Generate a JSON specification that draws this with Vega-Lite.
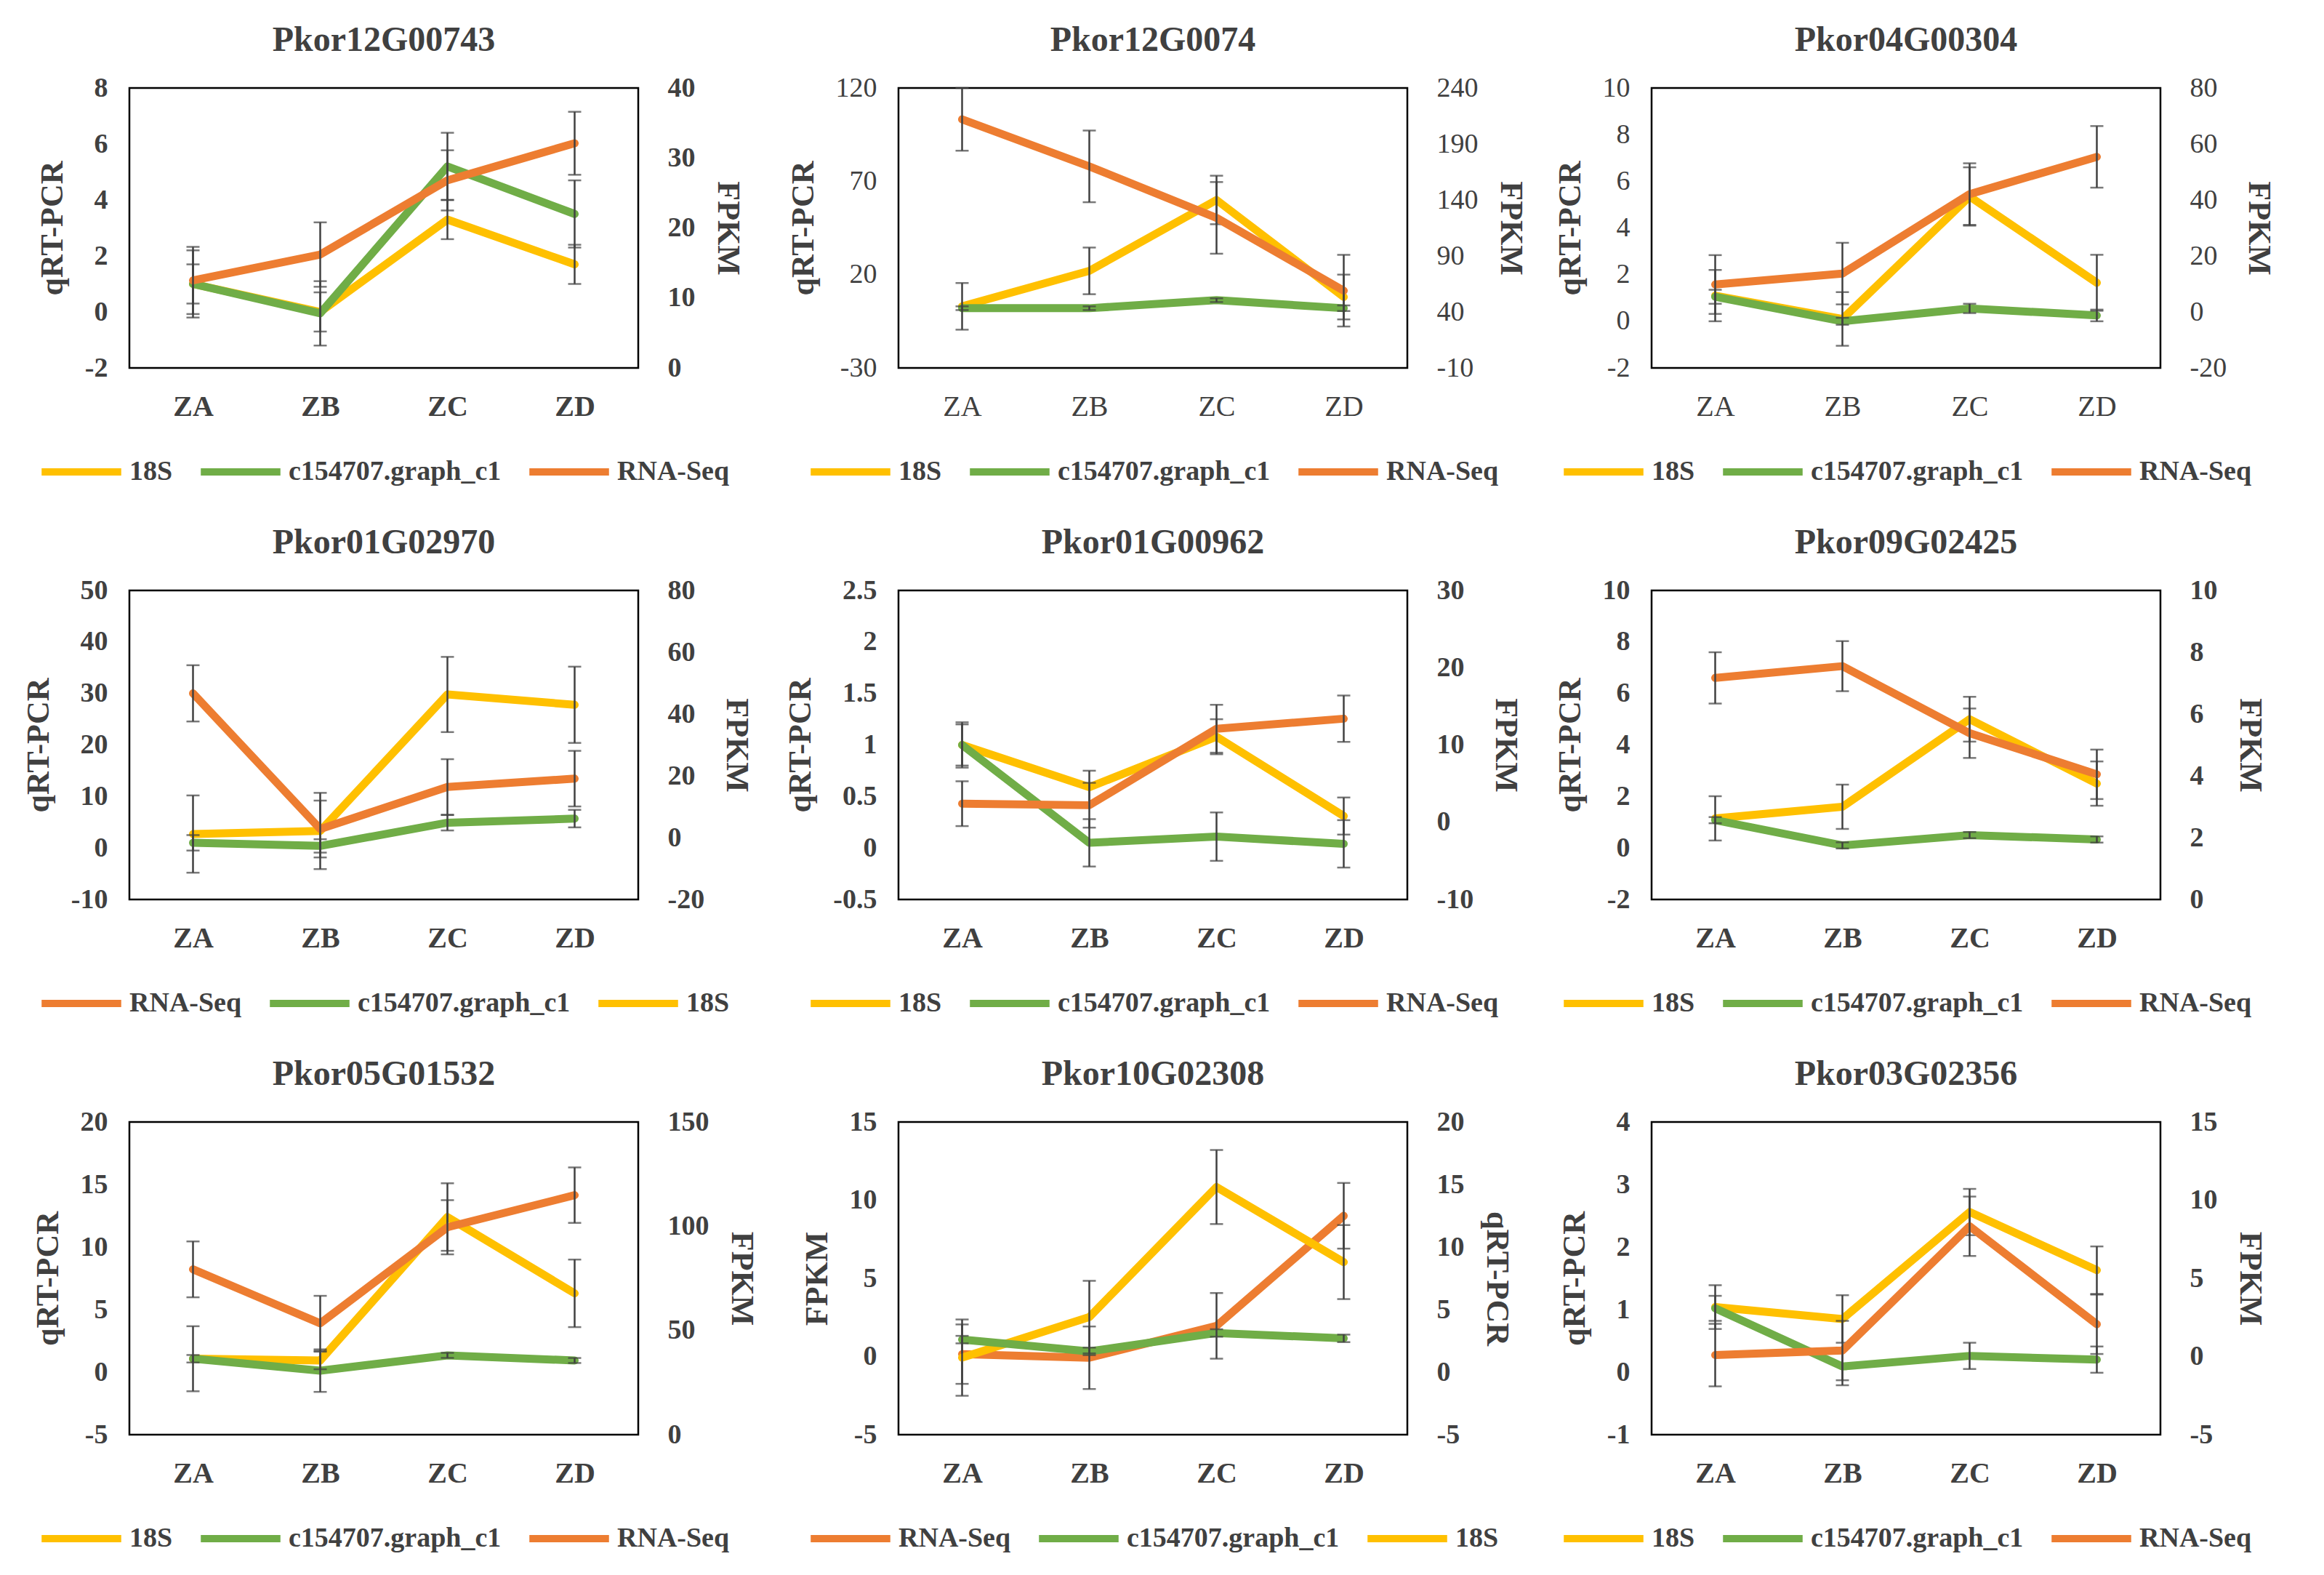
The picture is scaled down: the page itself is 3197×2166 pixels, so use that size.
{
"$schema": "https://vega.github.io/schema/vega-lite/v6.json",
"background": "white",
"padding": {"left": 30, "top": 30, "right": 10, "bottom": 5},
"data": {"values": [
{"panel":"Pkor12G00743","series":"18S","stage":"ZA","value":1.0,"err":0.7},
{"panel":"Pkor12G00743","series":"18S","stage":"ZB","value":0.0,"err":0.7},
{"panel":"Pkor12G00743","series":"18S","stage":"ZC","value":3.3,"err":0.7},
{"panel":"Pkor12G00743","series":"18S","stage":"ZD","value":1.7,"err":0.7},
{"panel":"Pkor12G00743","series":"c154707.graph_c1","stage":"ZA","value":1.0,"err":1.2},
{"panel":"Pkor12G00743","series":"c154707.graph_c1","stage":"ZB","value":-0.05,"err":1.15},
{"panel":"Pkor12G00743","series":"c154707.graph_c1","stage":"ZC","value":5.2,"err":1.2},
{"panel":"Pkor12G00743","series":"c154707.graph_c1","stage":"ZD","value":3.5,"err":1.2},
{"panel":"Pkor12G00743","series":"RNA-Seq","stage":"ZA","value":12.5,"err":4.8},
{"panel":"Pkor12G00743","series":"RNA-Seq","stage":"ZB","value":16.2,"err":4.6},
{"panel":"Pkor12G00743","series":"RNA-Seq","stage":"ZC","value":26.8,"err":4.3},
{"panel":"Pkor12G00743","series":"RNA-Seq","stage":"ZD","value":32.1,"err":4.5},
{"panel":"Pkor12G0074","series":"18S","stage":"ZA","value":3,"err":12.5},
{"panel":"Pkor12G0074","series":"18S","stage":"ZB","value":22,"err":12.5},
{"panel":"Pkor12G0074","series":"18S","stage":"ZC","value":60,"err":13},
{"panel":"Pkor12G0074","series":"18S","stage":"ZD","value":8,"err":12},
{"panel":"Pkor12G0074","series":"c154707.graph_c1","stage":"ZA","value":2,"err":1},
{"panel":"Pkor12G0074","series":"c154707.graph_c1","stage":"ZB","value":2,"err":1},
{"panel":"Pkor12G0074","series":"c154707.graph_c1","stage":"ZC","value":6.3,"err":1},
{"panel":"Pkor12G0074","series":"c154707.graph_c1","stage":"ZD","value":2,"err":1.5},
{"panel":"Pkor12G0074","series":"RNA-Seq","stage":"ZA","value":212,"err":28},
{"panel":"Pkor12G0074","series":"RNA-Seq","stage":"ZB","value":170,"err":32},
{"panel":"Pkor12G0074","series":"RNA-Seq","stage":"ZC","value":124,"err":32},
{"panel":"Pkor12G0074","series":"RNA-Seq","stage":"ZD","value":59,"err":32},
{"panel":"Pkor04G00304","series":"18S","stage":"ZA","value":1.1,"err":1.1},
{"panel":"Pkor04G00304","series":"18S","stage":"ZB","value":0.1,"err":1.15},
{"panel":"Pkor04G00304","series":"18S","stage":"ZC","value":5.35,"err":1.25},
{"panel":"Pkor04G00304","series":"18S","stage":"ZD","value":1.65,"err":1.2},
{"panel":"Pkor04G00304","series":"c154707.graph_c1","stage":"ZA","value":1.05,"err":0.3},
{"panel":"Pkor04G00304","series":"c154707.graph_c1","stage":"ZB","value":0.0,"err":0.15},
{"panel":"Pkor04G00304","series":"c154707.graph_c1","stage":"ZC","value":0.55,"err":0.2},
{"panel":"Pkor04G00304","series":"c154707.graph_c1","stage":"ZD","value":0.25,"err":0.25},
{"panel":"Pkor04G00304","series":"RNA-Seq","stage":"ZA","value":9.8,"err":10.5},
{"panel":"Pkor04G00304","series":"RNA-Seq","stage":"ZB","value":13.7,"err":11},
{"panel":"Pkor04G00304","series":"RNA-Seq","stage":"ZC","value":42.1,"err":11},
{"panel":"Pkor04G00304","series":"RNA-Seq","stage":"ZD","value":55.4,"err":11},
{"panel":"Pkor01G02970","series":"18S","stage":"ZA","value":2.7,"err":7.5},
{"panel":"Pkor01G02970","series":"18S","stage":"ZB","value":3.3,"err":7.4},
{"panel":"Pkor01G02970","series":"18S","stage":"ZC","value":29.8,"err":7.3},
{"panel":"Pkor01G02970","series":"18S","stage":"ZD","value":27.8,"err":7.4},
{"panel":"Pkor01G02970","series":"c154707.graph_c1","stage":"ZA","value":1.0,"err":1.5},
{"panel":"Pkor01G02970","series":"c154707.graph_c1","stage":"ZB","value":0.4,"err":1.3},
{"panel":"Pkor01G02970","series":"c154707.graph_c1","stage":"ZC","value":4.9,"err":1.5},
{"panel":"Pkor01G02970","series":"c154707.graph_c1","stage":"ZD","value":5.7,"err":1.7},
{"panel":"Pkor01G02970","series":"RNA-Seq","stage":"ZA","value":46.7,"err":9.1},
{"panel":"Pkor01G02970","series":"RNA-Seq","stage":"ZB","value":2.8,"err":9.2},
{"panel":"Pkor01G02970","series":"RNA-Seq","stage":"ZC","value":16.4,"err":9},
{"panel":"Pkor01G02970","series":"RNA-Seq","stage":"ZD","value":19.1,"err":9},
{"panel":"Pkor01G00962","series":"18S","stage":"ZA","value":1.0,"err":0.2},
{"panel":"Pkor01G00962","series":"18S","stage":"ZB","value":0.59,"err":0.16},
{"panel":"Pkor01G00962","series":"18S","stage":"ZC","value":1.08,"err":0.17},
{"panel":"Pkor01G00962","series":"18S","stage":"ZD","value":0.31,"err":0.18},
{"panel":"Pkor01G00962","series":"c154707.graph_c1","stage":"ZA","value":1.0,"err":0.22},
{"panel":"Pkor01G00962","series":"c154707.graph_c1","stage":"ZB","value":0.05,"err":0.23},
{"panel":"Pkor01G00962","series":"c154707.graph_c1","stage":"ZC","value":0.11,"err":0.235},
{"panel":"Pkor01G00962","series":"c154707.graph_c1","stage":"ZD","value":0.04,"err":0.23},
{"panel":"Pkor01G00962","series":"RNA-Seq","stage":"ZA","value":2.4,"err":2.9},
{"panel":"Pkor01G00962","series":"RNA-Seq","stage":"ZB","value":2.2,"err":2.9},
{"panel":"Pkor01G00962","series":"RNA-Seq","stage":"ZC","value":12.1,"err":3.1},
{"panel":"Pkor01G00962","series":"RNA-Seq","stage":"ZD","value":13.4,"err":3.0},
{"panel":"Pkor09G02425","series":"18S","stage":"ZA","value":1.15,"err":0.86},
{"panel":"Pkor09G02425","series":"18S","stage":"ZB","value":1.6,"err":0.86},
{"panel":"Pkor09G02425","series":"18S","stage":"ZC","value":5.0,"err":0.87},
{"panel":"Pkor09G02425","series":"18S","stage":"ZD","value":2.5,"err":0.86},
{"panel":"Pkor09G02425","series":"c154707.graph_c1","stage":"ZA","value":1.08,"err":0.12},
{"panel":"Pkor09G02425","series":"c154707.graph_c1","stage":"ZB","value":0.1,"err":0.12},
{"panel":"Pkor09G02425","series":"c154707.graph_c1","stage":"ZC","value":0.5,"err":0.12},
{"panel":"Pkor09G02425","series":"c154707.graph_c1","stage":"ZD","value":0.33,"err":0.12},
{"panel":"Pkor09G02425","series":"RNA-Seq","stage":"ZA","value":7.17,"err":0.83},
{"panel":"Pkor09G02425","series":"RNA-Seq","stage":"ZB","value":7.55,"err":0.81},
{"panel":"Pkor09G02425","series":"RNA-Seq","stage":"ZC","value":5.38,"err":0.8},
{"panel":"Pkor09G02425","series":"RNA-Seq","stage":"ZD","value":4.05,"err":0.8},
{"panel":"Pkor05G01532","series":"18S","stage":"ZA","value":1.07,"err":2.6},
{"panel":"Pkor05G01532","series":"18S","stage":"ZB","value":0.93,"err":0.7},
{"panel":"Pkor05G01532","series":"18S","stage":"ZC","value":12.4,"err":2.7},
{"panel":"Pkor05G01532","series":"18S","stage":"ZD","value":6.3,"err":2.7},
{"panel":"Pkor05G01532","series":"c154707.graph_c1","stage":"ZA","value":1.07,"err":0.3},
{"panel":"Pkor05G01532","series":"c154707.graph_c1","stage":"ZB","value":0.12,"err":1.7},
{"panel":"Pkor05G01532","series":"c154707.graph_c1","stage":"ZC","value":1.34,"err":0.2},
{"panel":"Pkor05G01532","series":"c154707.graph_c1","stage":"ZD","value":0.93,"err":0.2},
{"panel":"Pkor05G01532","series":"RNA-Seq","stage":"ZA","value":79.3,"err":13.4},
{"panel":"Pkor05G01532","series":"RNA-Seq","stage":"ZB","value":53.4,"err":13.2},
{"panel":"Pkor05G01532","series":"RNA-Seq","stage":"ZC","value":99.5,"err":13},
{"panel":"Pkor05G01532","series":"RNA-Seq","stage":"ZD","value":114.9,"err":13.3},
{"panel":"Pkor10G02308","series":"18S","stage":"ZA","value":1.16,"err":3.05},
{"panel":"Pkor10G02308","series":"18S","stage":"ZB","value":4.4,"err":2.9},
{"panel":"Pkor10G02308","series":"18S","stage":"ZC","value":14.8,"err":2.96},
{"panel":"Pkor10G02308","series":"18S","stage":"ZD","value":8.8,"err":2.96},
{"panel":"Pkor10G02308","series":"c154707.graph_c1","stage":"ZA","value":2.6,"err":0.3},
{"panel":"Pkor10G02308","series":"c154707.graph_c1","stage":"ZB","value":1.66,"err":0.3},
{"panel":"Pkor10G02308","series":"c154707.graph_c1","stage":"ZC","value":3.13,"err":0.3},
{"panel":"Pkor10G02308","series":"c154707.graph_c1","stage":"ZD","value":2.7,"err":0.3},
{"panel":"Pkor10G02308","series":"RNA-Seq","stage":"ZA","value":0.15,"err":1.9},
{"panel":"Pkor10G02308","series":"RNA-Seq","stage":"ZB","value":-0.08,"err":2.0},
{"panel":"Pkor10G02308","series":"RNA-Seq","stage":"ZC","value":1.96,"err":2.1},
{"panel":"Pkor10G02308","series":"RNA-Seq","stage":"ZD","value":9.0,"err":2.1},
{"panel":"Pkor03G02356","series":"18S","stage":"ZA","value":1.04,"err":0.35},
{"panel":"Pkor03G02356","series":"18S","stage":"ZB","value":0.85,"err":0.38},
{"panel":"Pkor03G02356","series":"18S","stage":"ZC","value":2.56,"err":0.37},
{"panel":"Pkor03G02356","series":"18S","stage":"ZD","value":1.63,"err":0.38},
{"panel":"Pkor03G02356","series":"c154707.graph_c1","stage":"ZA","value":1.02,"err":0.2},
{"panel":"Pkor03G02356","series":"c154707.graph_c1","stage":"ZB","value":0.09,"err":0.3},
{"panel":"Pkor03G02356","series":"c154707.graph_c1","stage":"ZC","value":0.26,"err":0.21},
{"panel":"Pkor03G02356","series":"c154707.graph_c1","stage":"ZD","value":0.2,"err":0.21},
{"panel":"Pkor03G02356","series":"RNA-Seq","stage":"ZA","value":0.09,"err":2.0},
{"panel":"Pkor03G02356","series":"RNA-Seq","stage":"ZB","value":0.38,"err":1.9},
{"panel":"Pkor03G02356","series":"RNA-Seq","stage":"ZC","value":8.33,"err":1.9},
{"panel":"Pkor03G02356","series":"RNA-Seq","stage":"ZD","value":2.06,"err":1.9}
]},
"columns": 3,
"spacing": {"row": 50, "column": 35},
"resolve": {"scale": {"color": "independent"}, "legend": {"color": "independent"}},
"concat": [
{"title": "Pkor12G00743", "width": 700, "height": 385,
 "transform": [{"filter": "datum.panel == 'Pkor12G00743'"}],
 "encoding": {"x": {"field": "stage", "type": "ordinal", "scale": {"type": "point", "padding": 0.5}, "axis": {"title": null, "labelAngle": 0, "labelPadding": 33, "labelFontSize": 40}}},
 "layer": [
  {"transform": [{"filter": "datum.series != 'RNA-Seq'"}], "layer": [
   {"mark": {"type": "line", "strokeWidth": 11, "strokeJoin": "round", "strokeCap": "round"},
    "encoding": {"y": {"field": "value", "type": "quantitative", "title": "qRT-PCR", "scale": {"domain": [-2, 8], "nice": false, "zero": false}, "axis": {"orient": "left", "values": [-2, 0, 2, 4, 6, 8], "labelExpr": "'' + datum.value", "labelPadding": 30, "titlePadding": 22}},
     "color": {"field": "series", "type": "nominal", "scale": {"domain": ["18S", "c154707.graph_c1", "RNA-Seq"], "range": ["#FFC000", "#70AD47", "#ED7D31"]}, "legend": {"title": null}}}},
   {"mark": {"type": "errorbar", "ticks": true, "color": "#404040", "thickness": 2.5, "size": 18},
    "encoding": {"y": {"field": "value", "type": "quantitative", "title": "qRT-PCR"}, "yError": {"field": "err"}}}]},
  {"transform": [{"filter": "datum.series == 'RNA-Seq'"}], "layer": [
   {"mark": {"type": "line", "strokeWidth": 11, "strokeJoin": "round", "strokeCap": "round"},
    "encoding": {"y": {"field": "value", "type": "quantitative", "title": "FPKM", "scale": {"domain": [0, 40], "nice": false, "zero": false}, "axis": {"orient": "right", "values": [0, 10, 20, 30, 40], "labelExpr": "'' + datum.value", "labelPadding": 40, "titlePadding": 22}},
     "color": {"field": "series", "type": "nominal", "scale": {"domain": ["18S", "c154707.graph_c1", "RNA-Seq"], "range": ["#FFC000", "#70AD47", "#ED7D31"]}, "legend": {"title": null}}}},
   {"mark": {"type": "errorbar", "ticks": true, "color": "#404040", "thickness": 2.5, "size": 18},
    "encoding": {"y": {"field": "value", "type": "quantitative", "title": "FPKM"}, "yError": {"field": "err"}}}]}
 ],
 "resolve": {"scale": {"y": "independent"}}},
{"title": "Pkor12G0074", "width": 700, "height": 385,
 "transform": [{"filter": "datum.panel == 'Pkor12G0074'"}],
 "encoding": {"x": {"field": "stage", "type": "ordinal", "scale": {"type": "point", "padding": 0.5}, "axis": {"title": null, "labelAngle": 0, "labelPadding": 33, "labelFontSize": 40, "labelFontWeight": "normal"}}},
 "layer": [
  {"transform": [{"filter": "datum.series != 'RNA-Seq'"}], "layer": [
   {"mark": {"type": "line", "strokeWidth": 11, "strokeJoin": "round", "strokeCap": "round"},
    "encoding": {"y": {"field": "value", "type": "quantitative", "title": "qRT-PCR", "scale": {"domain": [-30, 120], "nice": false, "zero": false}, "axis": {"orient": "left", "values": [-30, 20, 70, 120], "labelExpr": "'' + datum.value", "labelPadding": 30, "titlePadding": 22, "labelFontWeight": "normal"}},
     "color": {"field": "series", "type": "nominal", "scale": {"domain": ["18S", "c154707.graph_c1", "RNA-Seq"], "range": ["#FFC000", "#70AD47", "#ED7D31"]}, "legend": {"title": null}}}},
   {"mark": {"type": "errorbar", "ticks": true, "color": "#404040", "thickness": 2.5, "size": 18},
    "encoding": {"y": {"field": "value", "type": "quantitative", "title": "qRT-PCR"}, "yError": {"field": "err"}}}]},
  {"transform": [{"filter": "datum.series == 'RNA-Seq'"}], "layer": [
   {"mark": {"type": "line", "strokeWidth": 11, "strokeJoin": "round", "strokeCap": "round"},
    "encoding": {"y": {"field": "value", "type": "quantitative", "title": "FPKM", "scale": {"domain": [-10, 240], "nice": false, "zero": false}, "axis": {"orient": "right", "values": [-10, 40, 90, 140, 190, 240], "labelExpr": "'' + datum.value", "labelPadding": 40, "titlePadding": 22, "labelFontWeight": "normal"}},
     "color": {"field": "series", "type": "nominal", "scale": {"domain": ["18S", "c154707.graph_c1", "RNA-Seq"], "range": ["#FFC000", "#70AD47", "#ED7D31"]}, "legend": {"title": null}}}},
   {"mark": {"type": "errorbar", "ticks": true, "color": "#404040", "thickness": 2.5, "size": 18},
    "encoding": {"y": {"field": "value", "type": "quantitative", "title": "FPKM"}, "yError": {"field": "err"}}}]}
 ],
 "resolve": {"scale": {"y": "independent"}}},
{"title": "Pkor04G00304", "width": 700, "height": 385,
 "transform": [{"filter": "datum.panel == 'Pkor04G00304'"}],
 "encoding": {"x": {"field": "stage", "type": "ordinal", "scale": {"type": "point", "padding": 0.5}, "axis": {"title": null, "labelAngle": 0, "labelPadding": 33, "labelFontSize": 40, "labelFontWeight": "normal"}}},
 "layer": [
  {"transform": [{"filter": "datum.series != 'RNA-Seq'"}], "layer": [
   {"mark": {"type": "line", "strokeWidth": 11, "strokeJoin": "round", "strokeCap": "round"},
    "encoding": {"y": {"field": "value", "type": "quantitative", "title": "qRT-PCR", "scale": {"domain": [-2, 10], "nice": false, "zero": false}, "axis": {"orient": "left", "values": [-2, 0, 2, 4, 6, 8, 10], "labelExpr": "'' + datum.value", "labelPadding": 30, "titlePadding": 22, "labelFontWeight": "normal"}},
     "color": {"field": "series", "type": "nominal", "scale": {"domain": ["18S", "c154707.graph_c1", "RNA-Seq"], "range": ["#FFC000", "#70AD47", "#ED7D31"]}, "legend": {"title": null}}}},
   {"mark": {"type": "errorbar", "ticks": true, "color": "#404040", "thickness": 2.5, "size": 18},
    "encoding": {"y": {"field": "value", "type": "quantitative", "title": "qRT-PCR"}, "yError": {"field": "err"}}}]},
  {"transform": [{"filter": "datum.series == 'RNA-Seq'"}], "layer": [
   {"mark": {"type": "line", "strokeWidth": 11, "strokeJoin": "round", "strokeCap": "round"},
    "encoding": {"y": {"field": "value", "type": "quantitative", "title": "FPKM", "scale": {"domain": [-20, 80], "nice": false, "zero": false}, "axis": {"orient": "right", "values": [-20, 0, 20, 40, 60, 80], "labelExpr": "'' + datum.value", "labelPadding": 40, "titlePadding": 22, "labelFontWeight": "normal"}},
     "color": {"field": "series", "type": "nominal", "scale": {"domain": ["18S", "c154707.graph_c1", "RNA-Seq"], "range": ["#FFC000", "#70AD47", "#ED7D31"]}, "legend": {"title": null}}}},
   {"mark": {"type": "errorbar", "ticks": true, "color": "#404040", "thickness": 2.5, "size": 18},
    "encoding": {"y": {"field": "value", "type": "quantitative", "title": "FPKM"}, "yError": {"field": "err"}}}]}
 ],
 "resolve": {"scale": {"y": "independent"}}},
{"title": "Pkor01G02970", "width": 700, "height": 425,
 "transform": [{"filter": "datum.panel == 'Pkor01G02970'"}],
 "encoding": {"x": {"field": "stage", "type": "ordinal", "scale": {"type": "point", "padding": 0.5}, "axis": {"title": null, "labelAngle": 0, "labelPadding": 33, "labelFontSize": 40}}},
 "layer": [
  {"transform": [{"filter": "datum.series != 'RNA-Seq'"}], "layer": [
   {"mark": {"type": "line", "strokeWidth": 11, "strokeJoin": "round", "strokeCap": "round"},
    "encoding": {"y": {"field": "value", "type": "quantitative", "title": "qRT-PCR", "scale": {"domain": [-10, 50], "nice": false, "zero": false}, "axis": {"orient": "left", "values": [-10, 0, 10, 20, 30, 40, 50], "labelExpr": "'' + datum.value", "labelPadding": 30, "titlePadding": 22}},
     "color": {"field": "series", "type": "nominal", "scale": {"domain": ["RNA-Seq", "c154707.graph_c1", "18S"], "range": ["#ED7D31", "#70AD47", "#FFC000"]}, "legend": {"title": null}}}},
   {"mark": {"type": "errorbar", "ticks": true, "color": "#404040", "thickness": 2.5, "size": 18},
    "encoding": {"y": {"field": "value", "type": "quantitative", "title": "qRT-PCR"}, "yError": {"field": "err"}}}]},
  {"transform": [{"filter": "datum.series == 'RNA-Seq'"}], "layer": [
   {"mark": {"type": "line", "strokeWidth": 11, "strokeJoin": "round", "strokeCap": "round"},
    "encoding": {"y": {"field": "value", "type": "quantitative", "title": "FPKM", "scale": {"domain": [-20, 80], "nice": false, "zero": false}, "axis": {"orient": "right", "values": [-20, 0, 20, 40, 60, 80], "labelExpr": "'' + datum.value", "labelPadding": 40, "titlePadding": 22}},
     "color": {"field": "series", "type": "nominal", "scale": {"domain": ["RNA-Seq", "c154707.graph_c1", "18S"], "range": ["#ED7D31", "#70AD47", "#FFC000"]}, "legend": {"title": null}}}},
   {"mark": {"type": "errorbar", "ticks": true, "color": "#404040", "thickness": 2.5, "size": 18},
    "encoding": {"y": {"field": "value", "type": "quantitative", "title": "FPKM"}, "yError": {"field": "err"}}}]}
 ],
 "resolve": {"scale": {"y": "independent"}}},
{"title": "Pkor01G00962", "width": 700, "height": 425,
 "transform": [{"filter": "datum.panel == 'Pkor01G00962'"}],
 "encoding": {"x": {"field": "stage", "type": "ordinal", "scale": {"type": "point", "padding": 0.5}, "axis": {"title": null, "labelAngle": 0, "labelPadding": 33, "labelFontSize": 40}}},
 "layer": [
  {"transform": [{"filter": "datum.series != 'RNA-Seq'"}], "layer": [
   {"mark": {"type": "line", "strokeWidth": 11, "strokeJoin": "round", "strokeCap": "round"},
    "encoding": {"y": {"field": "value", "type": "quantitative", "title": "qRT-PCR", "scale": {"domain": [-0.5, 2.5], "nice": false, "zero": false}, "axis": {"orient": "left", "values": [-0.5, 0, 0.5, 1, 1.5, 2, 2.5], "labelExpr": "'' + datum.value", "labelPadding": 30, "titlePadding": 22}},
     "color": {"field": "series", "type": "nominal", "scale": {"domain": ["18S", "c154707.graph_c1", "RNA-Seq"], "range": ["#FFC000", "#70AD47", "#ED7D31"]}, "legend": {"title": null}}}},
   {"mark": {"type": "errorbar", "ticks": true, "color": "#404040", "thickness": 2.5, "size": 18},
    "encoding": {"y": {"field": "value", "type": "quantitative", "title": "qRT-PCR"}, "yError": {"field": "err"}}}]},
  {"transform": [{"filter": "datum.series == 'RNA-Seq'"}], "layer": [
   {"mark": {"type": "line", "strokeWidth": 11, "strokeJoin": "round", "strokeCap": "round"},
    "encoding": {"y": {"field": "value", "type": "quantitative", "title": "FPKM", "scale": {"domain": [-10, 30], "nice": false, "zero": false}, "axis": {"orient": "right", "values": [-10, 0, 10, 20, 30], "labelExpr": "'' + datum.value", "labelPadding": 40, "titlePadding": 22}},
     "color": {"field": "series", "type": "nominal", "scale": {"domain": ["18S", "c154707.graph_c1", "RNA-Seq"], "range": ["#FFC000", "#70AD47", "#ED7D31"]}, "legend": {"title": null}}}},
   {"mark": {"type": "errorbar", "ticks": true, "color": "#404040", "thickness": 2.5, "size": 18},
    "encoding": {"y": {"field": "value", "type": "quantitative", "title": "FPKM"}, "yError": {"field": "err"}}}]}
 ],
 "resolve": {"scale": {"y": "independent"}}},
{"title": "Pkor09G02425", "width": 700, "height": 425,
 "transform": [{"filter": "datum.panel == 'Pkor09G02425'"}],
 "encoding": {"x": {"field": "stage", "type": "ordinal", "scale": {"type": "point", "padding": 0.5}, "axis": {"title": null, "labelAngle": 0, "labelPadding": 33, "labelFontSize": 40}}},
 "layer": [
  {"transform": [{"filter": "datum.series != 'RNA-Seq'"}], "layer": [
   {"mark": {"type": "line", "strokeWidth": 11, "strokeJoin": "round", "strokeCap": "round"},
    "encoding": {"y": {"field": "value", "type": "quantitative", "title": "qRT-PCR", "scale": {"domain": [-2, 10], "nice": false, "zero": false}, "axis": {"orient": "left", "values": [-2, 0, 2, 4, 6, 8, 10], "labelExpr": "'' + datum.value", "labelPadding": 30, "titlePadding": 22}},
     "color": {"field": "series", "type": "nominal", "scale": {"domain": ["18S", "c154707.graph_c1", "RNA-Seq"], "range": ["#FFC000", "#70AD47", "#ED7D31"]}, "legend": {"title": null}}}},
   {"mark": {"type": "errorbar", "ticks": true, "color": "#404040", "thickness": 2.5, "size": 18},
    "encoding": {"y": {"field": "value", "type": "quantitative", "title": "qRT-PCR"}, "yError": {"field": "err"}}}]},
  {"transform": [{"filter": "datum.series == 'RNA-Seq'"}], "layer": [
   {"mark": {"type": "line", "strokeWidth": 11, "strokeJoin": "round", "strokeCap": "round"},
    "encoding": {"y": {"field": "value", "type": "quantitative", "title": "FPKM", "scale": {"domain": [0, 10], "nice": false, "zero": false}, "axis": {"orient": "right", "values": [0, 2, 4, 6, 8, 10], "labelExpr": "'' + datum.value", "labelPadding": 40, "titlePadding": 22}},
     "color": {"field": "series", "type": "nominal", "scale": {"domain": ["18S", "c154707.graph_c1", "RNA-Seq"], "range": ["#FFC000", "#70AD47", "#ED7D31"]}, "legend": {"title": null}}}},
   {"mark": {"type": "errorbar", "ticks": true, "color": "#404040", "thickness": 2.5, "size": 18},
    "encoding": {"y": {"field": "value", "type": "quantitative", "title": "FPKM"}, "yError": {"field": "err"}}}]}
 ],
 "resolve": {"scale": {"y": "independent"}}},
{"title": "Pkor05G01532", "width": 700, "height": 430,
 "transform": [{"filter": "datum.panel == 'Pkor05G01532'"}],
 "encoding": {"x": {"field": "stage", "type": "ordinal", "scale": {"type": "point", "padding": 0.5}, "axis": {"title": null, "labelAngle": 0, "labelPadding": 33, "labelFontSize": 40}}},
 "layer": [
  {"transform": [{"filter": "datum.series != 'RNA-Seq'"}], "layer": [
   {"mark": {"type": "line", "strokeWidth": 11, "strokeJoin": "round", "strokeCap": "round"},
    "encoding": {"y": {"field": "value", "type": "quantitative", "title": "qRT-PCR", "scale": {"domain": [-5, 20], "nice": false, "zero": false}, "axis": {"orient": "left", "values": [-5, 0, 5, 10, 15, 20], "labelExpr": "'' + datum.value", "labelPadding": 30, "titlePadding": 22}},
     "color": {"field": "series", "type": "nominal", "scale": {"domain": ["18S", "c154707.graph_c1", "RNA-Seq"], "range": ["#FFC000", "#70AD47", "#ED7D31"]}, "legend": {"title": null}}}},
   {"mark": {"type": "errorbar", "ticks": true, "color": "#404040", "thickness": 2.5, "size": 18},
    "encoding": {"y": {"field": "value", "type": "quantitative", "title": "qRT-PCR"}, "yError": {"field": "err"}}}]},
  {"transform": [{"filter": "datum.series == 'RNA-Seq'"}], "layer": [
   {"mark": {"type": "line", "strokeWidth": 11, "strokeJoin": "round", "strokeCap": "round"},
    "encoding": {"y": {"field": "value", "type": "quantitative", "title": "FPKM", "scale": {"domain": [0, 150], "nice": false, "zero": false}, "axis": {"orient": "right", "values": [0, 50, 100, 150], "labelExpr": "'' + datum.value", "labelPadding": 40, "titlePadding": 22}},
     "color": {"field": "series", "type": "nominal", "scale": {"domain": ["18S", "c154707.graph_c1", "RNA-Seq"], "range": ["#FFC000", "#70AD47", "#ED7D31"]}, "legend": {"title": null}}}},
   {"mark": {"type": "errorbar", "ticks": true, "color": "#404040", "thickness": 2.5, "size": 18},
    "encoding": {"y": {"field": "value", "type": "quantitative", "title": "FPKM"}, "yError": {"field": "err"}}}]}
 ],
 "resolve": {"scale": {"y": "independent"}}},
{"title": "Pkor10G02308", "width": 700, "height": 430,
 "transform": [{"filter": "datum.panel == 'Pkor10G02308'"}],
 "encoding": {"x": {"field": "stage", "type": "ordinal", "scale": {"type": "point", "padding": 0.5}, "axis": {"title": null, "labelAngle": 0, "labelPadding": 33, "labelFontSize": 40}}},
 "layer": [
  {"transform": [{"filter": "datum.series == 'RNA-Seq'"}], "layer": [
   {"mark": {"type": "line", "strokeWidth": 11, "strokeJoin": "round", "strokeCap": "round"},
    "encoding": {"y": {"field": "value", "type": "quantitative", "title": "FPKM", "scale": {"domain": [-5, 15], "nice": false, "zero": false}, "axis": {"orient": "left", "values": [-5, 0, 5, 10, 15], "labelExpr": "'' + datum.value", "labelPadding": 30, "titlePadding": 22}},
     "color": {"field": "series", "type": "nominal", "scale": {"domain": ["RNA-Seq", "c154707.graph_c1", "18S"], "range": ["#ED7D31", "#70AD47", "#FFC000"]}, "legend": {"title": null}}}},
   {"mark": {"type": "errorbar", "ticks": true, "color": "#404040", "thickness": 2.5, "size": 18},
    "encoding": {"y": {"field": "value", "type": "quantitative", "title": "FPKM"}, "yError": {"field": "err"}}}]},
  {"transform": [{"filter": "datum.series != 'RNA-Seq'"}], "layer": [
   {"mark": {"type": "line", "strokeWidth": 11, "strokeJoin": "round", "strokeCap": "round"},
    "encoding": {"y": {"field": "value", "type": "quantitative", "title": "qRT-PCR", "scale": {"domain": [-5, 20], "nice": false, "zero": false}, "axis": {"orient": "right", "values": [-5, 0, 5, 10, 15, 20], "labelExpr": "'' + datum.value", "labelPadding": 40, "titlePadding": 22}},
     "color": {"field": "series", "type": "nominal", "scale": {"domain": ["RNA-Seq", "c154707.graph_c1", "18S"], "range": ["#ED7D31", "#70AD47", "#FFC000"]}, "legend": {"title": null}}}},
   {"mark": {"type": "errorbar", "ticks": true, "color": "#404040", "thickness": 2.5, "size": 18},
    "encoding": {"y": {"field": "value", "type": "quantitative", "title": "qRT-PCR"}, "yError": {"field": "err"}}}]}
 ],
 "resolve": {"scale": {"y": "independent"}}},
{"title": "Pkor03G02356", "width": 700, "height": 430,
 "transform": [{"filter": "datum.panel == 'Pkor03G02356'"}],
 "encoding": {"x": {"field": "stage", "type": "ordinal", "scale": {"type": "point", "padding": 0.5}, "axis": {"title": null, "labelAngle": 0, "labelPadding": 33, "labelFontSize": 40}}},
 "layer": [
  {"transform": [{"filter": "datum.series != 'RNA-Seq'"}], "layer": [
   {"mark": {"type": "line", "strokeWidth": 11, "strokeJoin": "round", "strokeCap": "round"},
    "encoding": {"y": {"field": "value", "type": "quantitative", "title": "qRT-PCR", "scale": {"domain": [-1, 4], "nice": false, "zero": false}, "axis": {"orient": "left", "values": [-1, 0, 1, 2, 3, 4], "labelExpr": "'' + datum.value", "labelPadding": 30, "titlePadding": 22}},
     "color": {"field": "series", "type": "nominal", "scale": {"domain": ["18S", "c154707.graph_c1", "RNA-Seq"], "range": ["#FFC000", "#70AD47", "#ED7D31"]}, "legend": {"title": null}}}},
   {"mark": {"type": "errorbar", "ticks": true, "color": "#404040", "thickness": 2.5, "size": 18},
    "encoding": {"y": {"field": "value", "type": "quantitative", "title": "qRT-PCR"}, "yError": {"field": "err"}}}]},
  {"transform": [{"filter": "datum.series == 'RNA-Seq'"}], "layer": [
   {"mark": {"type": "line", "strokeWidth": 11, "strokeJoin": "round", "strokeCap": "round"},
    "encoding": {"y": {"field": "value", "type": "quantitative", "title": "FPKM", "scale": {"domain": [-5, 15], "nice": false, "zero": false}, "axis": {"orient": "right", "values": [-5, 0, 5, 10, 15], "labelExpr": "'' + datum.value", "labelPadding": 40, "titlePadding": 22}},
     "color": {"field": "series", "type": "nominal", "scale": {"domain": ["18S", "c154707.graph_c1", "RNA-Seq"], "range": ["#FFC000", "#70AD47", "#ED7D31"]}, "legend": {"title": null}}}},
   {"mark": {"type": "errorbar", "ticks": true, "color": "#404040", "thickness": 2.5, "size": 18},
    "encoding": {"y": {"field": "value", "type": "quantitative", "title": "FPKM"}, "yError": {"field": "err"}}}]}
 ],
 "resolve": {"scale": {"y": "independent"}}}
],
"config": {
 "font": "Liberation Serif",
 "view": {"stroke": "#000000", "strokeWidth": 2.5},
 "title": {"font": "Liberation Serif", "fontSize": 48, "fontWeight": "bold", "color": "#404040", "offset": 22},
 "axis": {"labelFont": "Liberation Serif", "labelFontSize": 38, "labelFontWeight": "bold", "labelColor": "#404040", "titleFont": "Liberation Serif", "titleFontSize": 44, "titleFontWeight": "bold", "titleColor": "#404040", "ticks": false, "domain": false, "grid": false},
 "legend": {"orient": "bottom", "direction": "horizontal", "offset": 10, "labelFont": "Liberation Serif", "labelFontSize": 38, "labelFontWeight": "bold", "labelColor": "#404040", "labelLimit": 0, "symbolType": "stroke", "symbolStrokeWidth": 10, "symbolSize": 12000, "columnPadding": 18, "labelOffset": 6, "layout": {"bottom": {"anchor": "middle"}}}
}
}
